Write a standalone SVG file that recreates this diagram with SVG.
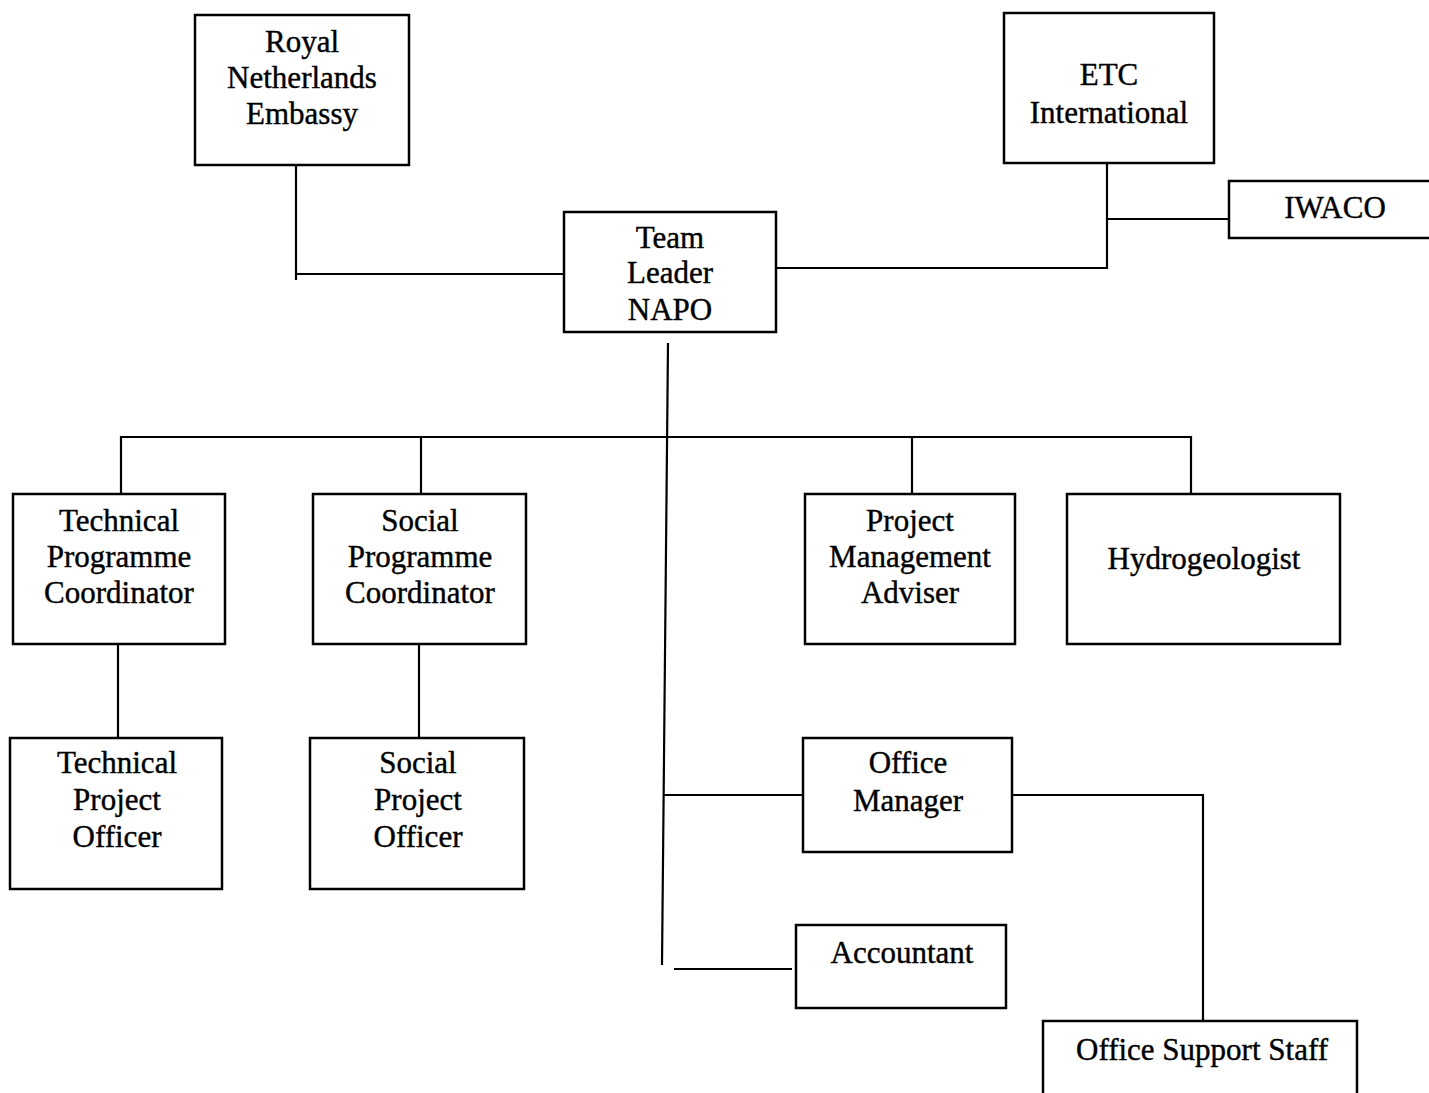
<svg xmlns="http://www.w3.org/2000/svg" width="1429" height="1093" viewBox="0 0 1429 1093">
<style>
.box{fill:#fff;stroke:#000;stroke-width:2.5}
.ln{fill:none;stroke:#000;stroke-width:2.2}
text{font-family:"Liberation Serif","Times New Roman",serif;font-size:31px;fill:#000;stroke:#000;stroke-width:0.4;text-anchor:middle}
</style>
<rect width="1429" height="1093" fill="#fff"/>
<g id="connectors">
<polyline class="ln" points="296,165 296,280"/>
<polyline class="ln" points="296,274 564,274"/>
<polyline class="ln" points="776,268 1107,268 1107,163"/>
<polyline class="ln" points="1107,219 1229,219"/>
<polyline class="ln" points="668,343 662,965"/>
<polyline class="ln" points="121,494 121,437 1191,437 1191,494"/>
<polyline class="ln" points="421,437 421,494"/>
<polyline class="ln" points="912,437 912,494"/>
<polyline class="ln" points="118,644 118,738"/>
<polyline class="ln" points="419,644 419,738"/>
<polyline class="ln" points="664,795 803,795"/>
<polyline class="ln" points="1012,795 1203,795 1203,1022"/>
<polyline class="ln" points="674,969 792,969"/>
</g>
<g id="royal-netherlands-embassy"><rect class="box" x="195" y="15" width="214" height="150"/><text x="302" y="52">Royal</text><text x="302" y="88">Netherlands</text><text x="302" y="124">Embassy</text></g>
<g id="team-leader"><rect class="box" x="564" y="212" width="212" height="120"/><text x="670" y="248">Team</text><text x="670" y="283">Leader</text><text x="670" y="320">NAPO</text></g>
<g id="etc-international"><rect class="box" x="1004" y="13" width="210" height="150"/><text x="1109" y="85">ETC</text><text x="1109" y="123">International</text></g>
<g id="iwaco"><rect class="box" x="1229" y="181" width="210" height="57"/><text x="1335" y="218">IWACO</text></g>
<g id="technical-programme-coordinator"><rect class="box" x="13" y="494" width="212" height="150"/><text x="119" y="531">Technical</text><text x="119" y="567">Programme</text><text x="119" y="603">Coordinator</text></g>
<g id="social-programme-coordinator"><rect class="box" x="313" y="494" width="213" height="150"/><text x="420" y="531">Social</text><text x="420" y="567">Programme</text><text x="420" y="603">Coordinator</text></g>
<g id="project-management-adviser"><rect class="box" x="805" y="494" width="210" height="150"/><text x="910" y="531">Project</text><text x="910" y="567">Management</text><text x="910" y="603">Adviser</text></g>
<g id="hydrogeologist"><rect class="box" x="1067" y="494" width="273" height="150"/><text x="1204" y="569">Hydrogeologist</text></g>
<g id="technical-project-officer"><rect class="box" x="10" y="738" width="212" height="151"/><text x="117" y="773">Technical</text><text x="117" y="810">Project</text><text x="117" y="847">Officer</text></g>
<g id="social-project-officer"><rect class="box" x="310" y="738" width="214" height="151"/><text x="418" y="773">Social</text><text x="418" y="810">Project</text><text x="418" y="847">Officer</text></g>
<g id="office-manager"><rect class="box" x="803" y="738" width="209" height="114"/><text x="908" y="773">Office</text><text x="908" y="811">Manager</text></g>
<g id="accountant"><rect class="box" x="796" y="925" width="210" height="83"/><text x="902" y="963">Accountant</text></g>
<g id="office-support-staff"><rect class="box" x="1043" y="1021" width="314" height="90"/><text x="1202" y="1060">Office Support Staff</text></g>
</svg>
